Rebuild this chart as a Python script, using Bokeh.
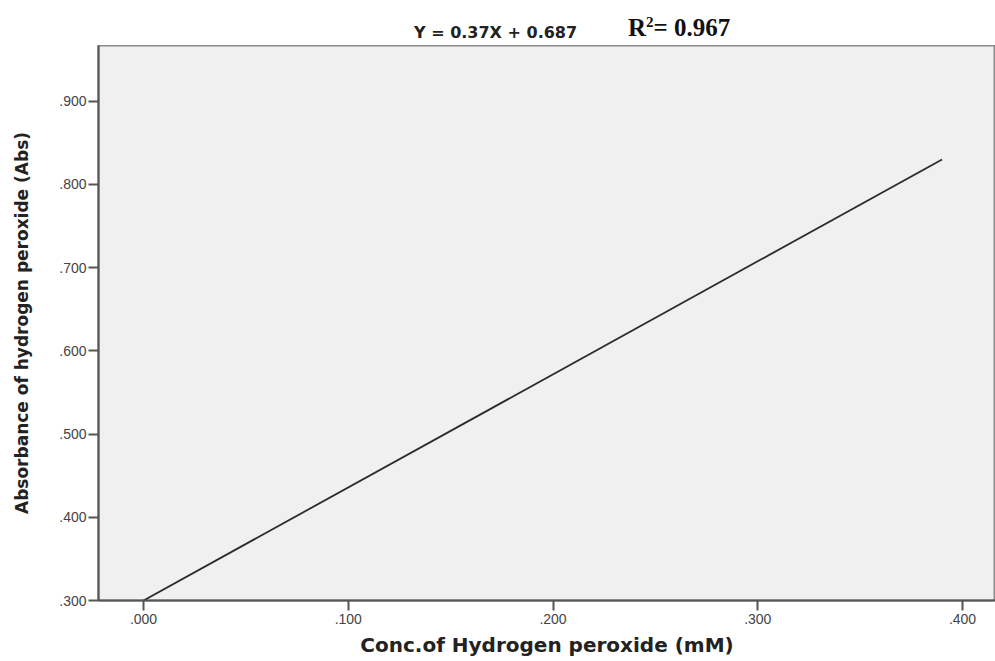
from bokeh.plotting import figure
from bokeh.models import Range1d, FixedTicker, CustomJSTickFormatter, Div
from bokeh.layouts import column
from bokeh.embed import file_html
from bokeh.resources import INLINE

# Data
conc = [0.000, 0.390]
absorb = [0.300, 0.830]
x_ticks = [0.0, 0.1, 0.2, 0.3, 0.4]
y_ticks = [0.3, 0.4, 0.5, 0.6, 0.7, 0.8, 0.9]
equation = "Y = 0.37X + 0.687"
r2_value = "= 0.967"

p = figure(width=995, height=616, output_backend="svg", toolbar_location=None,
           x_range=Range1d(-0.022, 0.4161), y_range=Range1d(0.300, 0.967),
           min_border_left=98, min_border_right=0, min_border_top=0, min_border_bottom=61)

p.background_fill_color = "#f0f0f0"
p.border_fill_color = "white"
p.outline_line_color = "#8c8c8c"
p.outline_line_width = 2
p.xgrid.visible = False
p.ygrid.visible = False

p.line(conc, absorb, line_color="#2b2b2b", line_width=1.8)

fmt = CustomJSTickFormatter(code="return tick.toFixed(3).replace(/^0/, '');")
for ax, ticks in ((p.xaxis[0], x_ticks), (p.yaxis[0], y_ticks)):
    ax.ticker = FixedTicker(ticks=ticks)
    ax.formatter = fmt
    ax.minor_tick_line_color = None
    ax.major_tick_in = 0
    ax.major_tick_out = 10
    ax.axis_line_color = "#555555"
    ax.axis_line_width = 2
    ax.major_tick_line_color = "#555555"
    ax.major_tick_line_width = 2
    ax.major_label_text_font = "Liberation Sans"
    ax.major_label_text_font_size = "14px"
    ax.major_label_text_color = "#444444"
    ax.axis_label_text_font = "DejaVu Sans"
    ax.axis_label_text_font_style = "bold"
    ax.axis_label_text_color = "#222222"

p.xaxis.axis_label = "Conc.of Hydrogen peroxide (mM)"
p.yaxis.axis_label = "Absorbance of hydrogen peroxide (Abs)"
p.xaxis.axis_label_text_font_size = "20px"
p.yaxis.axis_label_text_font_size = "17px"
p.xaxis.axis_label_standoff = 6
p.yaxis.axis_label_standoff = 24
p.xaxis.major_label_standoff = 3
p.yaxis.major_label_standoff = 2

header_html = (
    '<div style="position:relative;width:995px;height:45px;">'
    '<span style="position:absolute;left:414px;top:22px;font-family:\'DejaVu Sans\';'
    'font-weight:bold;font-size:16px;color:#222;white-space:nowrap;">' + equation + '</span>'
    '<span style="position:absolute;left:628px;top:10px;font-family:\'Liberation Serif\';'
    'font-weight:bold;font-size:25px;color:#111;white-space:nowrap;">R<sup style="font-size:15px;">2</sup>'
    + r2_value + '</span>'
    '</div>'
)
header = Div(text=header_html, width=995, height=45, margin=(0, 0, 0, 0))

layout = column(header, p, spacing=0)
open("out.html", "w").write(file_html(layout, INLINE))
